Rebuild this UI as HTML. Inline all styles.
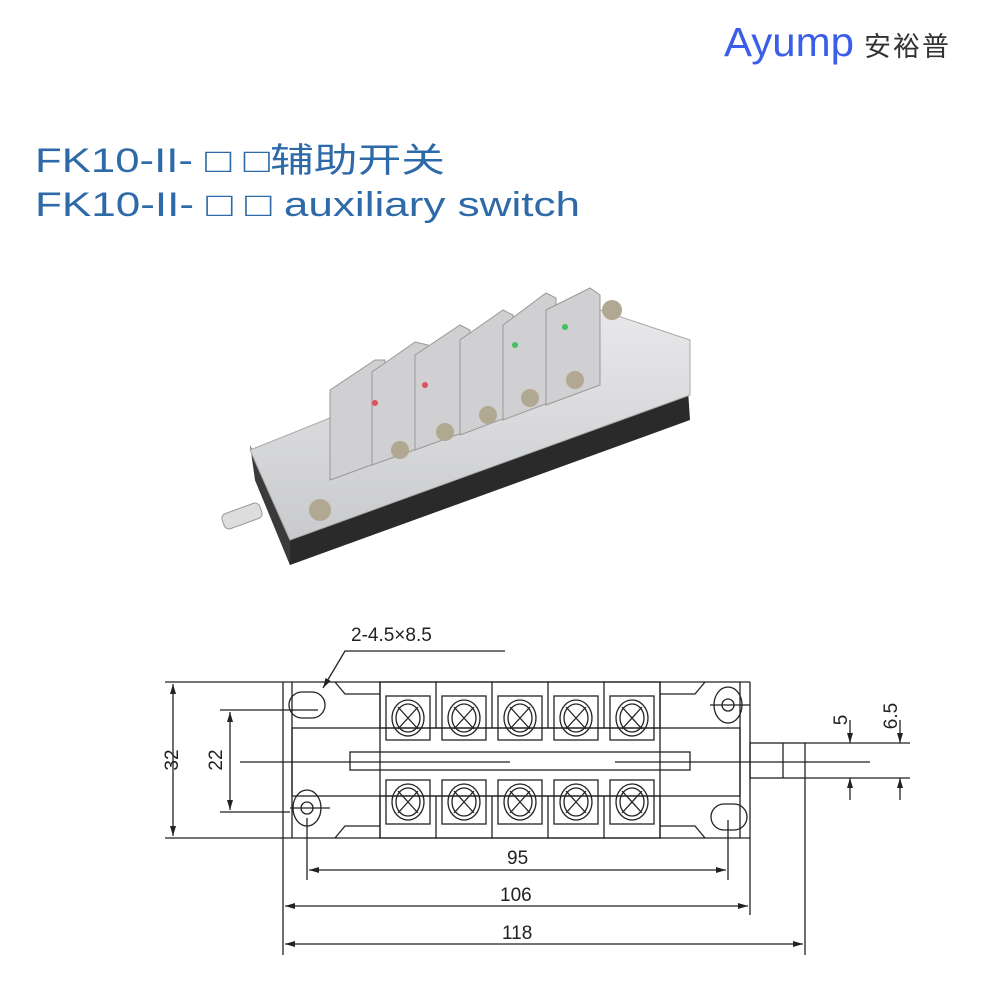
<!DOCTYPE html>
<html><head><meta charset="utf-8"><style>
html,body{margin:0;padding:0;background:#fff;}
svg{display:block}
</style></head><body>
<svg width="1000" height="1000" viewBox="0 0 1000 1000" xmlns="http://www.w3.org/2000/svg">
<defs>
<marker id="a" viewBox="0 0 10 6" refX="10" refY="3" markerWidth="10" markerHeight="6" orient="auto-start-reverse" markerUnits="userSpaceOnUse"><path d="M0,0 L10,3 L0,6 z" fill="#222"/></marker>
<linearGradient id="body" x1="0" y1="0" x2="0" y2="1"><stop offset="0" stop-color="#e8e8ea"/><stop offset="1" stop-color="#c9cacd"/></linearGradient>
<g id="t" stroke="#222" stroke-width="1.3" fill="none"><rect x="-22" y="-22" width="44" height="44"/><ellipse rx="16" ry="18"/><ellipse rx="12" ry="14"/><line x1="-10" y1="-11" x2="10" y2="11"/><line x1="10" y1="-11" x2="-10" y2="11"/></g>
</defs>
<rect width="1000" height="1000" fill="#fff"/>
<!-- logo -->
<text x="724" y="56" font-family="Liberation Sans, sans-serif" font-size="41" fill="#3b5ee8" textLength="130" lengthAdjust="spacingAndGlyphs">Ayump</text>
<text x="864" y="56" font-family="Liberation Sans, 'Noto Sans CJK SC', sans-serif" font-size="27" fill="#333" textLength="85">安裕普</text>
<!-- title -->
<g font-family="Liberation Sans, 'Noto Sans CJK SC', sans-serif" fill="#2f6aa8" font-size="34">
<text x="35" y="172" textLength="410" lengthAdjust="spacingAndGlyphs">FK10-II- □ □辅助开关</text>
<text x="35" y="216" textLength="545" lengthAdjust="spacingAndGlyphs">FK10-II- □ □ auxiliary switch</text>
</g>
<!-- product photo approx -->
<g>
<polygon points="255,480 290,565 690,420 688,390" fill="#2a2a2a"/>
<polygon points="250,445 255,480 290,565 290,530" fill="#3a3a3a"/>
<polygon points="250,450 600,310 690,340 690,395 290,540" fill="url(#body)" stroke="#aaa"/>
<g fill="#d0d0d2" stroke="#999">
<polygon points="330,390 375,360 385,360 385,460 330,480"/>
<polygon points="372,372 415,342 428,345 428,445 372,465"/>
<polygon points="415,355 460,325 470,330 470,430 415,450"/>
<polygon points="460,340 503,310 513,315 513,415 460,435"/>
<polygon points="503,325 546,293 556,298 556,400 503,420"/>
<polygon points="546,310 590,288 600,295 600,385 546,405"/>
</g>
<g fill="#b0a890"><circle cx="400" cy="450" r="9"/><circle cx="445" cy="432" r="9"/><circle cx="488" cy="415" r="9"/><circle cx="530" cy="398" r="9"/><circle cx="575" cy="380" r="9"/><circle cx="320" cy="510" r="11"/><circle cx="612" cy="310" r="10"/></g>
<g fill="#e05060"><circle cx="375" cy="403" r="3"/><circle cx="425" cy="385" r="3"/></g>
<g fill="#40c060"><circle cx="515" cy="345" r="3"/><circle cx="565" cy="327" r="3"/></g>
<rect x="222" y="508" width="40" height="16" rx="5" transform="rotate(-20 242 516)" fill="#ddd" stroke="#999"/>
</g>
<!-- drawing -->
<g stroke="#222" stroke-width="1.3" fill="none">
<line x1="165" y1="682" x2="750" y2="682"/>
<line x1="165" y1="838" x2="750" y2="838"/>
<line x1="283" y1="682" x2="283" y2="955"/>
<line x1="750" y1="682" x2="750" y2="915"/>
<line x1="292" y1="682" x2="292" y2="838"/>
<line x1="740" y1="682" x2="740" y2="838"/>
<rect x="292" y="728" width="448" height="68"/>
<path d="M335,682 L345,694 L380,694"/>
<path d="M335,838 L345,826 L380,826"/>
<path d="M660,694 L695,694 L705,682"/>
<path d="M660,826 L695,826 L705,838"/>
<rect x="380" y="682" width="280" height="46"/>
<rect x="380" y="796" width="280" height="42"/>
<line x1="436" y1="682" x2="436" y2="728"/><line x1="492" y1="682" x2="492" y2="728"/><line x1="548" y1="682" x2="548" y2="728"/><line x1="604" y1="682" x2="604" y2="728"/>
<line x1="436" y1="796" x2="436" y2="838"/><line x1="492" y1="796" x2="492" y2="838"/><line x1="548" y1="796" x2="548" y2="838"/><line x1="604" y1="796" x2="604" y2="838"/>
<line x1="380" y1="682" x2="380" y2="838"/><line x1="660" y1="682" x2="660" y2="838"/>
<rect x="350" y="752" width="340" height="18"/>
<line x1="240" y1="762" x2="510" y2="762"/>
<line x1="615" y1="762" x2="870" y2="762"/>
<rect x="750" y="743" width="55" height="35"/>
<line x1="783" y1="743" x2="783" y2="778"/>
<line x1="805" y1="743" x2="910" y2="743"/>
<line x1="805" y1="778" x2="910" y2="778"/>
<line x1="805" y1="778" x2="805" y2="955"/>
<rect x="289" y="692" width="36" height="26" rx="13"/>
<ellipse cx="307" cy="808" rx="14" ry="18"/><circle cx="307" cy="808" r="6"/>
<line x1="290" y1="808" x2="330" y2="808"/>
<ellipse cx="728" cy="705" rx="14" ry="18"/><circle cx="728" cy="705" r="6"/>
<line x1="710" y1="705" x2="750" y2="705"/>
<rect x="711" y="804" width="36" height="26" rx="13"/>
<line x1="307" y1="818" x2="307" y2="880"/>
<line x1="728" y1="820" x2="728" y2="880"/>
<line x1="220" y1="710" x2="318" y2="710"/>
<line x1="220" y1="812" x2="290" y2="812"/>
<line x1="173" y1="684" x2="173" y2="836" marker-start="url(#a)" marker-end="url(#a)"/>
<line x1="230" y1="712" x2="230" y2="810" marker-start="url(#a)" marker-end="url(#a)"/>
<line x1="309" y1="870" x2="726" y2="870" marker-start="url(#a)" marker-end="url(#a)"/>
<line x1="285" y1="906" x2="748" y2="906" marker-start="url(#a)" marker-end="url(#a)"/>
<line x1="285" y1="944" x2="803" y2="944" marker-start="url(#a)" marker-end="url(#a)"/>
<line x1="850" y1="720" x2="850" y2="743" marker-end="url(#a)"/>
<line x1="850" y1="800" x2="850" y2="778" marker-end="url(#a)"/>
<line x1="900" y1="720" x2="900" y2="743" marker-end="url(#a)"/>
<line x1="900" y1="800" x2="900" y2="778" marker-end="url(#a)"/>
<polyline points="505,651 345,651 323,688" marker-end="url(#a)"/>
</g>
<use href="#t" x="408" y="718"/><use href="#t" x="464" y="718"/><use href="#t" x="520" y="718"/><use href="#t" x="576" y="718"/><use href="#t" x="632" y="718"/>
<use href="#t" x="408" y="802"/><use href="#t" x="464" y="802"/><use href="#t" x="520" y="802"/><use href="#t" x="576" y="802"/><use href="#t" x="632" y="802"/>
<g font-family="Liberation Sans, sans-serif" font-size="19" fill="#222">
<text x="351" y="641">2-4.5×8.5</text>
<text x="507" y="864">95</text>
<text x="500" y="901">106</text>
<text x="502" y="939">118</text>
<text transform="translate(178,760) rotate(-90)" text-anchor="middle">32</text>
<text transform="translate(222,760) rotate(-90)" text-anchor="middle">22</text>
<text transform="translate(847,720) rotate(-90)" text-anchor="middle">5</text>
<text transform="translate(897,716) rotate(-90)" text-anchor="middle">6.5</text>
</g>
</svg>
</body></html>
